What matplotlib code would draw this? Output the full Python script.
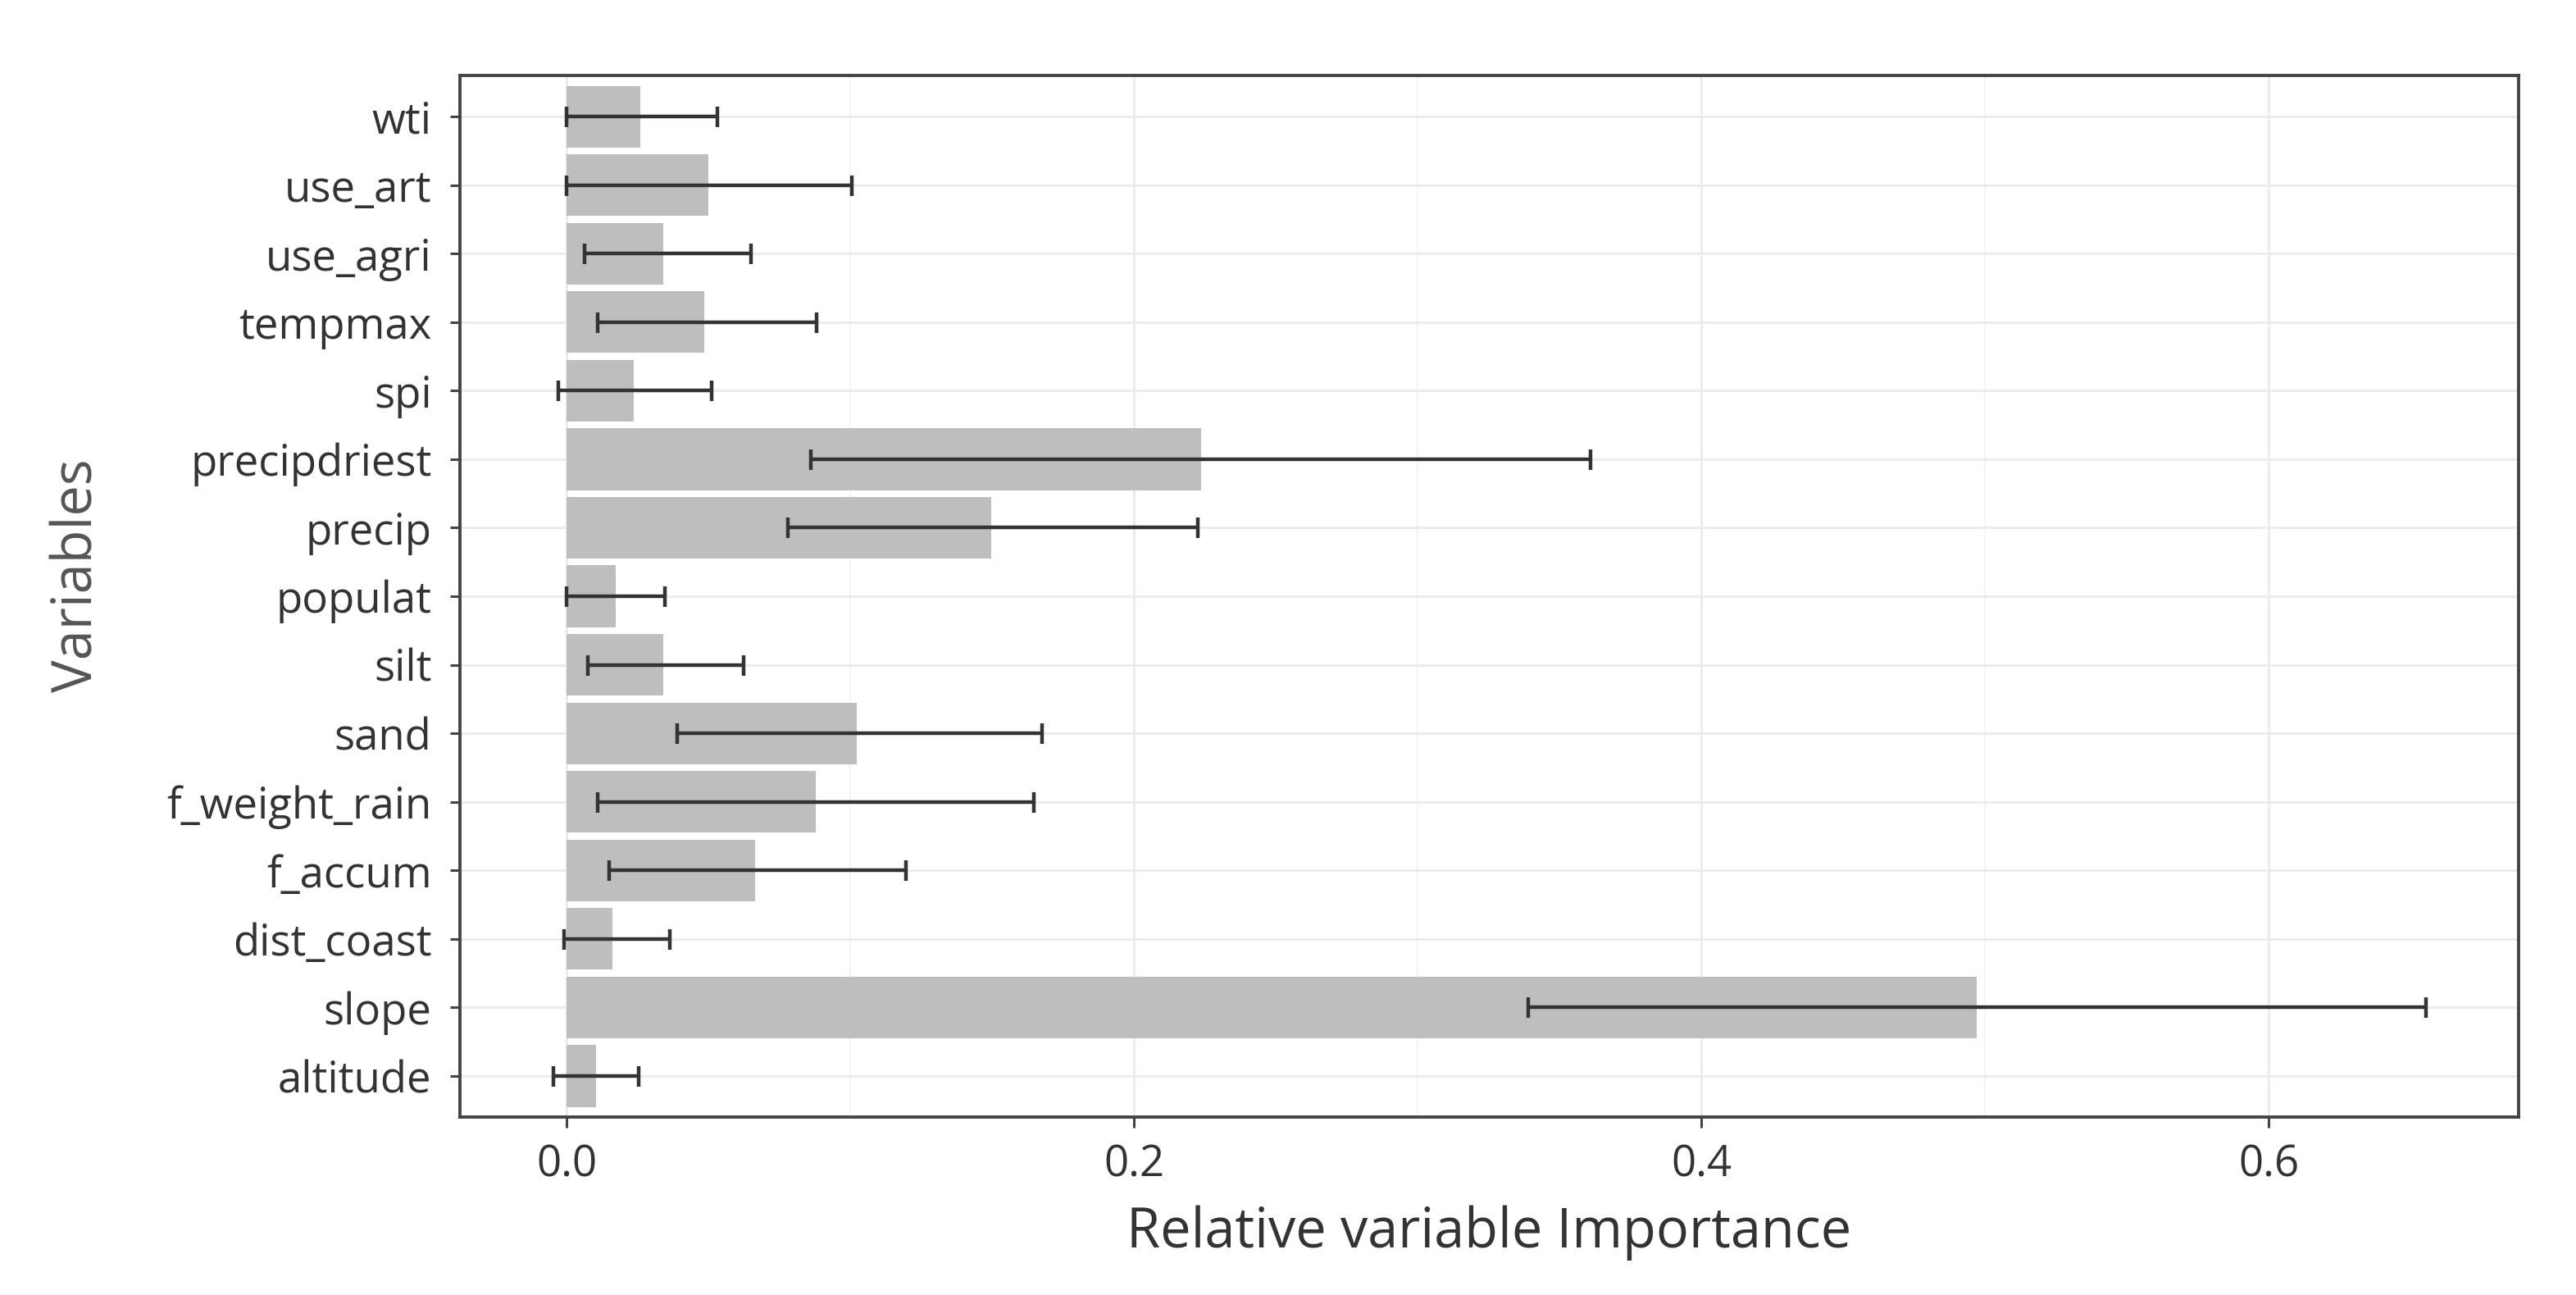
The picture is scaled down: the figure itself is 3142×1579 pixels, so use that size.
import numpy as np
import matplotlib.pyplot as plt

plt.rcParams['font.family'] = ['Open Sans', 'DejaVu Sans']

# variables from bottom to top
variables = ['altitude', 'slope', 'dist_coast', 'f_accum', 'f_weight_rain', 'sand', 'silt',
             'populat', 'precip', 'precipdriest', 'spi', 'tempmax', 'use_agri', 'use_art', 'wti']
importance = np.array([0.0104, 0.497, 0.0162, 0.0665, 0.0879, 0.1023, 0.034,
                       0.0173, 0.1497, 0.2237, 0.0237, 0.0486, 0.034, 0.050, 0.026])
lower = np.array([-0.0046, 0.339, -0.001, 0.015, 0.011, 0.039, 0.0075,
                  0.0, 0.078, 0.086, -0.003, 0.011, 0.0064, 0.0, 0.0])
upper = np.array([0.0254, 0.6555, 0.0364, 0.1197, 0.1647, 0.1676, 0.0624,
                  0.0347, 0.2225, 0.361, 0.051, 0.088, 0.065, 0.1006, 0.053])

y = np.arange(len(variables))

fig = plt.figure(figsize=(15.71, 7.895), dpi=200)
ax = fig.add_axes([0.1786, 0.1374, 0.9777 - 0.1786, 0.9417 - 0.1374])

ax.barh(y, importance, height=0.9, color='#bebebe', zorder=2)
ax.errorbar(importance, y, xerr=[importance - lower, upper - importance], fmt='none',
            ecolor='#333333', elinewidth=1.6, capsize=4.5, capthick=1.6, zorder=3)

ax.set_xlim(-0.0376, 0.688)
ax.set_ylim(-0.6, len(variables) - 0.4)
ax.set_yticks(y)
ax.set_yticklabels(variables)
ax.set_xticks([0.0, 0.2, 0.4, 0.6])
ax.set_xticklabels(['0.0', '0.2', '0.4', '0.6'])
ax.set_xticks([0.1, 0.3, 0.5], minor=True)

ax.grid(which='major', color='#ebebeb', linewidth=1.0, zorder=0)
ax.grid(which='minor', axis='x', color='#f2f2f2', linewidth=0.6, zorder=0)
ax.set_axisbelow(True)

for s in ax.spines.values():
    s.set_color('#444444')
    s.set_linewidth(1.4)

ax.tick_params(axis='both', which='major', length=4.5, width=1.1, color='#444444',
               labelsize=19, labelcolor='#333333')
ax.tick_params(axis='x', which='major', pad=7)
ax.tick_params(axis='y', which='major', pad=8)
ax.tick_params(which='minor', length=0)

ax.set_xlabel('Relative variable Importance', fontsize=24, color='#333333', labelpad=8)
ax.set_ylabel('Variables', fontsize=24, color='#555555', labelpad=27)
ax.yaxis.label.set_y(0.52)

plt.savefig('out.png', dpi=200)
